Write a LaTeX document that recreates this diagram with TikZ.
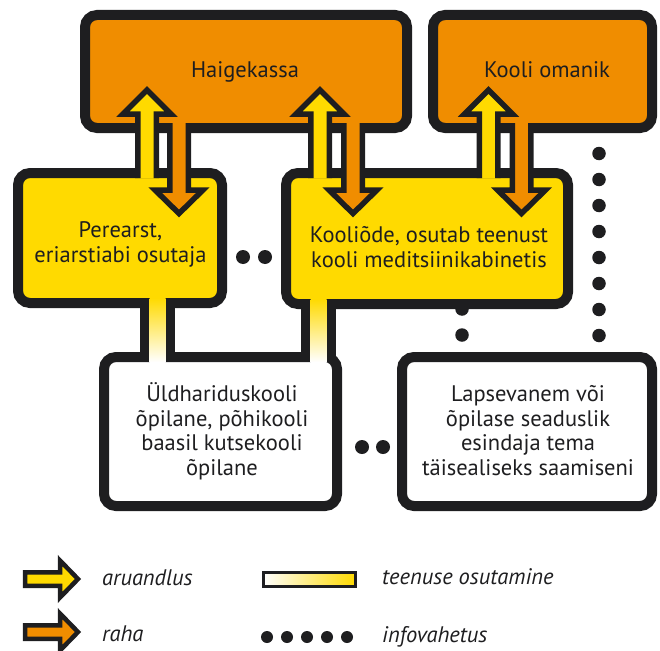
\documentclass[tikz,border=0pt]{standalone}
\usepackage{fontspec}
\setmainfont{PT Sans}
\usetikzlibrary{calc}
\definecolor{korange}{RGB}{240,141,0}
\definecolor{kyellow}{RGB}{255,218,0}
\definecolor{kblack}{RGB}{30,30,32}
\tikzset{
  box/.style={draw=kblack, line width=10pt, rounded corners=12pt, outer sep=0pt, inner sep=0pt, anchor=center},
  obox/.style={box, fill=korange},
  ybox/.style={box, fill=kyellow},
  wbox/.style={box, fill=white},
  lbl/.style={font=\fontsize{22.5}{24.5}\selectfont, align=center, text=kblack, inner sep=0pt, anchor=base},
  leg/.style={font=\fontsize{22.5}{24}\selectfont\itshape, text=kblack, anchor=base west, inner sep=0pt},
  vdots/.style={draw=kblack, line width=13.5pt, line cap=round, dash pattern=on 0pt off 26pt},
  hdots/.style={draw=kblack, line width=14pt, line cap=round, dash pattern=on 0pt off 22pt},
  arrowline/.style={draw=kblack, line width=5.5pt, line join=miter},
  linkline/.style={draw=kblack, line width=35pt},
}
\newcommand\vbarrow[5]{%
  \fill[#5] (#1-9.25,#2) -- (#1-9.25,#3) -- (#1-24,#3) -- (#1,#4) -- (#1+24,#3) -- (#1+9.25,#3) -- (#1+9.25,#2) -- cycle;
  \draw[arrowline] (#1-9.25,#2) -- (#1-9.25,#3) -- (#1-24,#3) -- (#1,#4) -- (#1+24,#3) -- (#1+9.25,#3) -- (#1+9.25,#2);
}
\newcommand\legarrow[2]{%
  \filldraw[fill=#2, draw=kblack, line width=4.5pt, line join=miter]
    (25,#1-6.75) -- (60,#1-6.75) -- (60,#1-18.5) -- (78,#1) -- (60,#1+18.5) -- (60,#1+6.75) -- (25,#1+6.75) -- cycle;
}
\begin{document}
\begin{tikzpicture}[x=1pt,y=-1pt]
\useasboundingbox (0,0) rectangle (660,650);
% helper coordinates
\coordinate (dR) at (599,0);
\coordinate (dM) at (462,0);
\coordinate (hT) at (0,257);
\coordinate (hB) at (0,447);
\coordinate (c1) at (157.5,0);
\coordinate (c2) at (318.5,0);
% box geometry (invisible first, to get anchors for the lines drawn behind)
\path (542.5,71.5) node[box, draw=none, minimum width=219pt, minimum height=113pt] (omanik0) {};
\path (120,238) node[box, draw=none, minimum width=204pt, minimum height=130pt] (perearst0) {};
\path (427,238.5) node[box, draw=none, minimum width=282pt, minimum height=131pt] (kooliode0) {};
\path (220.5,431.5) node[box, draw=none, minimum width=233pt, minimum height=149pt] (yld0) {};
\path (527,431.5) node[box, draw=none, minimum width=250pt, minimum height=149pt] (lapse0) {};
% dotted info lines (behind boxes)
\draw[vdots, dash phase=0.5] (omanik0.south -| dR) -- (lapse0.north -| dR);
\draw[vdots, dash phase=21] (kooliode0.south -| dM) -- (lapse0.north -| dM);
\draw[hdots, dash phase=1] (perearst0.east |- hT) -- (kooliode0.west |- hT);
\draw[hdots, dash phase=1, dash pattern=on 0pt off 21pt] ($(yld0.east |- hB)+(5,0)$) -- (lapse0.west |- hB);
% boxes
\node[obox, minimum width=322pt, minimum height=113pt] (haige) at (246,71.5) {};
\node[obox, minimum width=219pt, minimum height=113pt] (omanik) at (542.5,71.5) {};
\node[ybox, minimum width=204pt, minimum height=130pt] (perearst) at (120,238) {};
\node[ybox, minimum width=282pt, minimum height=131pt] (kooliode) at (427,238.5) {};
\node[wbox, minimum width=233pt, minimum height=149pt] (yld) at (220.5,431.5) {};
\node[wbox, minimum width=250pt, minimum height=149pt] (lapse) at (527,431.5) {};
% texts (base anchor = baseline of the last line)
\node[lbl] (haige-t) at (245,78) {Haigekassa};
\node[lbl] (omanik-t) at (547,78) {Kooli omanik};
\node[lbl] (perearst-t) at (120.5,262) {Perearst,\\eriarstiabi osutaja};
\node[lbl] (kooliode-t) at (429,267) {Kooliõde, osutab teenust\\kooli meditsiinikabinetis};
\node[lbl] (yld-t) at (222,475) {Üldhariduskooli\\õpilane, põhikooli\\baasil kutsekooli\\õpilane};
\node[lbl] (lapse-t) at (528,475) {Lapsevanem või\\õpilase seaduslik\\esindaja tema\\täisealiseks saamiseni};
% service links (gradient)
\draw[linkline] (perearst.south -| c1) -- (yld.north -| c1);
\shade[top color=kyellow, bottom color=white] ($(perearst.south -| c1)+(-8,-5)$) rectangle ($(yld.north -| c1)+(8,5)$);
\draw[linkline] (kooliode.south -| c2) -- (yld.north -| c2);
\shade[top color=kyellow, bottom color=white] ($(kooliode.south -| c2)+(-8,-5)$) rectangle ($(yld.north -| c2)+(8,5)$);
% double arrows: yellow up (aruandlus), orange down (raha)
\vbarrow{147}{178}{114}{90}{kyellow}
\vbarrow{179}{123}{190}{213.5}{korange}
\vbarrow{320}{178}{114}{90}{kyellow}
\vbarrow{353}{123}{190}{213.5}{korange}
\vbarrow{488.5}{178}{114}{90}{kyellow}
\vbarrow{521.5}{123}{190}{213.5}{korange}
% legend
\legarrow{579}{kyellow}
\legarrow{632}{korange}
\node[leg] (leg-a) at (102,585) {aruandlus};
\node[leg] (leg-r) at (102,641) {raha};
\draw[kblack, line width=3pt, left color=white, right color=kyellow] (263.5,572.5) rectangle (355.5,586.5);
\node[leg] (leg-t) at (382,584) {teenuse osutamine};
\coordinate (ld1) at (267,637);
\coordinate (ld2) at (348,637);
\draw[kblack, line width=12pt, line cap=round, dash pattern=on 0pt off 20pt] (ld1) -- (ld2);
\node[leg] (leg-i) at (382,642) {infovahetus};
\end{tikzpicture}
\end{document}
